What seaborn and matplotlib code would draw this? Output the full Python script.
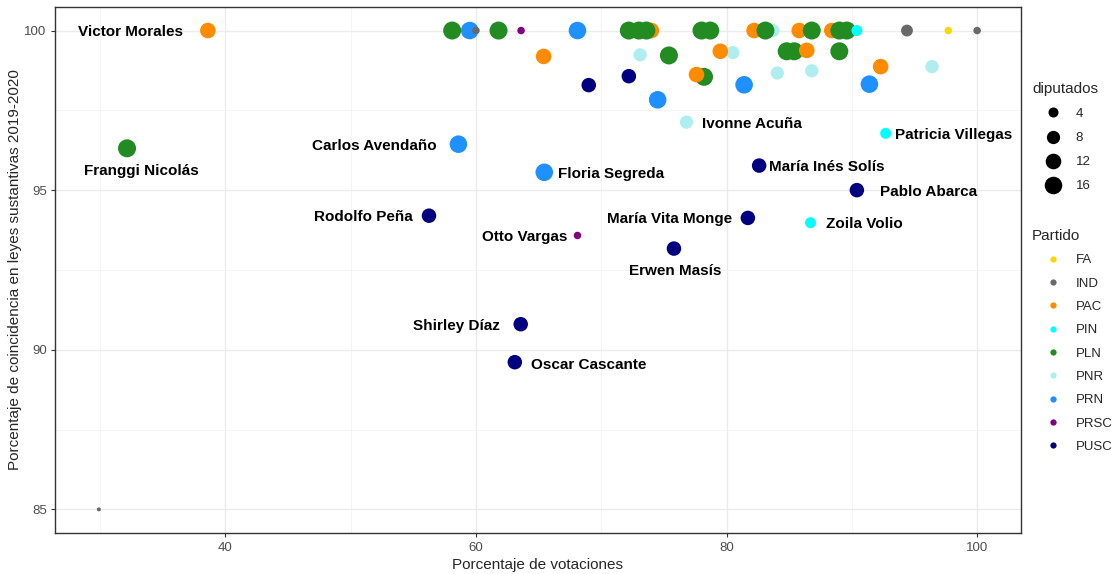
import numpy as np
import pandas as pd
import matplotlib
matplotlib.use("Agg")
import matplotlib.pyplot as plt
from matplotlib.lines import Line2D
import seaborn as sns

# ---------------------------------------------------------------
# Datos: porcentaje de votaciones vs coincidencia en leyes
# ---------------------------------------------------------------
votaciones = [58.1, 59.5, 60.0, 61.8, 63.6, 68.1, 65.4, 69.0,
              74.0, 72.2, 73.0, 73.6, 78.0, 78.7, 83.7, 82.2,
              83.1, 85.8, 86.8, 88.4, 89.0, 89.6, 90.4, 94.4,
              97.7, 100.0, 73.1, 75.4, 80.5, 79.5, 84.8, 85.4,
              86.4, 89.0, 72.2, 78.2, 77.6, 84.05, 86.8, 92.3,
              96.4, 74.5, 81.4, 91.4, 76.8, 92.7, 58.6, 65.45,
              82.6, 90.4, 81.7, 86.7, 68.1, 75.8, 56.25, 63.57,
              63.1, 38.6, 32.15, 29.9]
coincidencia = [100, 100, 100, 100, 100, 100, 99.19, 98.29,
                100, 100, 100, 100, 100, 100, 100, 100,
                100, 100, 100, 100, 100, 100, 100, 100,
                100, 100, 99.24, 99.22, 99.31, 99.35, 99.35, 99.35,
                99.38, 99.35, 98.57, 98.55, 98.62, 98.67, 98.74, 98.87,
                98.87, 97.83, 98.30, 98.32, 97.13, 96.78, 96.44, 95.56,
                95.77, 95.0, 94.13, 93.98, 93.58, 93.17, 94.2, 90.8,
                89.61, 100, 96.31, 85.0]
partido = ["PLN", "PRN", "IND", "PLN", "PRSC", "PRN", "PAC", "PUSC",
           "PAC", "PLN", "PLN", "PLN", "PLN", "PLN", "PNR", "PAC",
           "PLN", "PAC", "PLN", "PAC", "PLN", "PLN", "PIN", "IND",
           "FA", "IND", "PNR", "PLN", "PNR", "PAC", "PLN", "PLN",
           "PAC", "PLN", "PUSC", "PLN", "PAC", "PNR", "PNR", "PAC",
           "PNR", "PRN", "PRN", "PRN", "PNR", "PIN", "PRN", "PRN",
           "PUSC", "PUSC", "PUSC", "PIN", "PRSC", "PUSC", "PUSC", "PUSC",
           "PUSC", "PAC", "PLN", "IND"]
diputados_partido = {"PLN": 17, "PRN": 16, "PAC": 12, "PUSC": 10, "PNR": 8,
                     "PIN": 5, "FA": 2, "PRSC": 2, "IND": 2}
nombres = [None] * 44 + ["Ivonne Acuña", "Patricia Villegas", "Carlos Avendaño",
                         "Floria Segreda", "María Inés Solís", "Pablo Abarca",
                         "María Vita Monge", "Zoila Volio", "Otto Vargas",
                         "Erwen Masís", "Rodolfo Peña", "Shirley Díaz",
                         "Oscar Cascante", "Victor Morales", "Franggi Nicolás", None]

df = pd.DataFrame({"votaciones": votaciones, "coincidencia": coincidencia,
                   "Partido": partido, "nombre": nombres})
df["diputados"] = df["Partido"].map(diputados_partido)
df.loc[23, "diputados"] = 6   # independiente con punto mayor
df.loc[59, "diputados"] = 1

partidos = ["FA", "IND", "PAC", "PIN", "PLN", "PNR", "PRN", "PRSC", "PUSC"]
colores = {"FA": "#FFD700", "IND": "#696969", "PAC": "#FF8C00", "PIN": "#00FFFF",
           "PLN": "#228B22", "PNR": "#AFEEEE", "PRN": "#1E90FF",
           "PRSC": "#800080", "PUSC": "#000080"}

DPI = 100


def diametro_pt(d):
    # escala de area tipo ggplot: rango 1..6 sobre diputados 1..17
    size = 1 + 5 * np.sqrt((d - 1) / 16)
    px = 2.8 * size + 1.2
    return px * 72 / DPI


tamanos = {d: diametro_pt(d) ** 2 for d in sorted(df["diputados"].unique())}

# posicion de etiquetas (offset en puntos, alineacion)
etiquetas = {
    "Victor Morales": (-18, -1, "right"),
    "Franggi Nicolás": (10, -16, "center"),
    "Carlos Avendaño": (-16, -1.4, "right"),
    "Rodolfo Peña": (-12, -1, "right"),
    "Floria Segreda": (10, -1.4, "left"),
    "Ivonne Acuña": (11.5, -1, "left"),
    "Patricia Villegas": (6.5, -1, "left"),
    "María Inés Solís": (7.2, -1, "left"),
    "Pablo Abarca": (16.6, -1.4, "left"),
    "María Vita Monge": (-11.5, -1, "right"),
    "Zoila Volio": (11.5, -1, "left"),
    "Otto Vargas": (-7.2, -1, "right"),
    "Erwen Masís": (1, -16, "center"),
    "Shirley Díaz": (-15, -1, "right"),
    "Oscar Cascante": (11.5, -2, "left"),
}

sns.set_style("white")
plt.rcParams["font.family"] = ["Liberation Sans", "DejaVu Sans"]

fig = plt.figure(figsize=(11.13, 5.74), dpi=DPI)
ax = fig.add_axes([55 / 1113, 1 - 533.3 / 574, 966 / 1113, 526.7 / 574])

sns.scatterplot(data=df, x="votaciones", y="coincidencia", hue="Partido",
                palette=colores, size="diputados", sizes=tamanos,
                linewidth=0, alpha=1, legend=False, ax=ax, zorder=3)

for _, r in df.dropna(subset=["nombre"]).iterrows():
    dx, dy, ha = etiquetas[r["nombre"]]
    ax.annotate(r["nombre"], (r["votaciones"], r["coincidencia"]),
                xytext=(dx, dy), textcoords="offset points",
                ha=ha, va="center", fontsize=11, fontweight="bold",
                color="black", zorder=4)

ax.set_xlim(26.4, 103.5)
ax.set_ylim(84.25, 100.75)
ax.set_xticks([40, 60, 80, 100])
ax.set_yticks([85, 90, 95, 100])
ax.set_xticks([30, 50, 70, 90], minor=True)
ax.set_yticks([87.5, 92.5, 97.5], minor=True)
ax.grid(which="major", color="#EBEBEB", linewidth=1.0, zorder=0)
ax.grid(which="minor", color="#F2F2F2", linewidth=0.6, zorder=0)
ax.set_axisbelow(True)
ax.tick_params(which="major", length=3, color="#333333", labelsize=9.5,
               labelcolor="#4D4D4D", bottom=True, left=True, pad=3)
ax.tick_params(which="minor", length=0)
for s in ax.spines.values():
    s.set_color("#333333")
    s.set_linewidth(1.0)
ax.set_xlabel("Porcentaje de votaciones", fontsize=11, labelpad=3)
ax.set_ylabel("Porcentaje de coincidencia en leyes sustantivas 2019-2020",
              fontsize=11, labelpad=2)

# leyendas
h_size = [Line2D([], [], marker="o", linestyle="", color="black",
                 markersize=diametro_pt(v), markeredgewidth=0)
          for v in [4, 8, 12, 16]]
leg1 = ax.legend(h_size, ["4", "8", "12", "16"], title="diputados",
                 loc="upper left", bbox_to_anchor=(1032 / 1113, 1 - 82 / 574),
                 bbox_transform=fig.transFigure, frameon=False, fontsize=9.5,
                 title_fontsize=11, alignment="left", labelspacing=0.9,
                 handletextpad=0.1, borderpad=0, borderaxespad=0,
                 handlelength=3.2)
ax.add_artist(leg1)

h_part = [Line2D([], [], marker="o", linestyle="", color=colores[p],
                 markersize=4.5, markeredgewidth=0) for p in partidos]
ax.legend(h_part, partidos, title="Partido", loc="upper left",
          bbox_to_anchor=(1032 / 1113, 1 - 229 / 574),
          bbox_transform=fig.transFigure, frameon=False, fontsize=9.5,
          title_fontsize=11, alignment="left", labelspacing=0.84,
          handletextpad=0.1, borderpad=0, borderaxespad=0,
          handlelength=3.2)

fig.savefig("out.png", dpi=DPI)
